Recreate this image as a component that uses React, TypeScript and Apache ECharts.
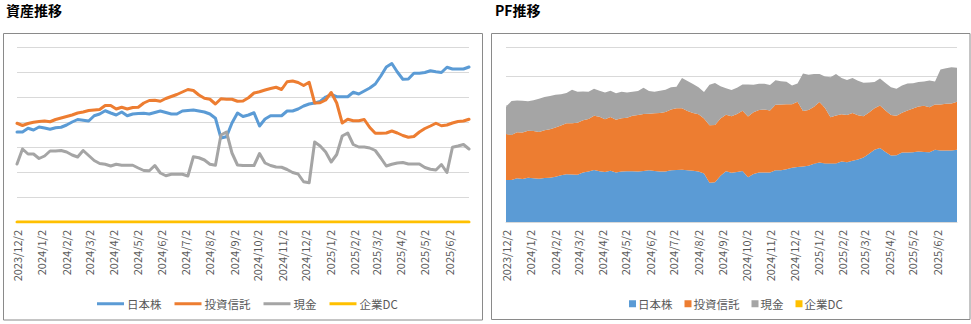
import React, { useEffect, useRef } from "react";
import * as echarts from "echarts";

const startDate = "2023/12/2";
const weekCount = 83;

const monthLabels = [
  "2023/12/2", "2024/1/2", "2024/2/2", "2024/3/2", "2024/4/2", "2024/5/2", "2024/6/2",
  "2024/7/2", "2024/8/2", "2024/9/2", "2024/10/2", "2024/11/2", "2024/12/2",
  "2025/1/2", "2025/2/2", "2025/3/2", "2025/4/2", "2025/5/2", "2025/6/2",
];

const seriesNames = ["日本株", "投資信託", "現金", "企業DC"];
const seriesColors = ["#5b9bd5", "#ed7d31", "#a5a5a5", "#ffc000"];

const japaneseStocks = [
  720, 720, 750, 736, 760, 752, 742, 754, 758, 776,
  800, 820, 814, 808, 850, 864, 890, 872, 856, 880,
  850, 864, 868, 870, 864, 876, 888, 876, 864, 864,
  888, 892, 896, 888, 880, 864, 830, 672, 682, 792,
  872, 844, 856, 874, 768, 824, 850, 850, 850, 888,
  888, 904, 928, 944, 952, 964, 1000, 1020, 1002, 1002,
  1002, 1038, 1024, 1048, 1072, 1104, 1168, 1240, 1268, 1200,
  1142, 1144, 1190, 1190, 1196, 1210, 1202, 1196, 1238, 1224,
  1224, 1224, 1240,
];

const investmentTrusts = [
  790, 772, 788, 798, 804, 808, 802, 820, 832, 844,
  856, 872, 880, 892, 896, 900, 932, 932, 904, 918,
  904, 916, 918, 952, 972, 974, 966, 988, 1004, 1020,
  1040, 1060, 1052, 1016, 990, 982, 944, 986, 982, 982,
  966, 968, 994, 1032, 1042, 1056, 1068, 1078, 1060, 1122,
  1128, 1116, 1092, 1118, 952, 954, 976, 1036, 952, 792,
  822, 810, 810, 820, 756, 710, 710, 712, 728, 712,
  692, 678, 684, 720, 748, 768, 790, 770, 776, 792,
  804, 808, 822,
];

const cash = [
  464, 584, 544, 544, 508, 528, 568, 568, 572, 560,
  536, 520, 572, 532, 492, 468, 462, 448, 462, 454,
  454, 454, 432, 412, 410, 452, 392, 370, 382, 382,
  382, 368, 522, 514, 496, 462, 454, 696, 720, 552,
  456, 452, 452, 452, 548, 472, 452, 440, 438, 420,
  396, 384, 322, 314, 640, 608, 560, 480, 540, 688,
  712, 620, 600, 600, 592, 572, 512, 448, 462, 472,
  476, 464, 464, 464, 436, 422, 416, 460, 396, 598,
  608, 620, 584,
];

const corporateDC = [
  0, 0, 0, 0, 0, 0, 0, 0, 0, 0,
  0, 0, 0, 0, 0, 0, 0, 0, 0, 0,
  0, 0, 0, 0, 0, 0, 0, 0, 0, 0,
  0, 0, 0, 0, 0, 0, 0, 0, 0, 0,
  0, 0, 0, 0, 0, 0, 0, 0, 0, 0,
  0, 0, 0, 0, 0, 0, 0, 0, 0, 0,
  0, 0, 0, 0, 0, 0, 0, 0, 0, 0,
  0, 0, 0, 0, 0, 0, 0, 0, 0, 0,
  0, 0, 0,
];

const allSeries = [japaneseStocks, investmentTrusts, cash, corporateDC];

function dayOffset(label: string): number {
  const [y, m, d] = label.split("/").map(Number);
  const [y0, m0, d0] = startDate.split("/").map(Number);
  return Math.round((Date.UTC(y, m - 1, d) - Date.UTC(y0, m0 - 1, d0)) / 86400000);
}

const pointDays = Array.from({ length: weekCount }, (_, i) => i * 7);
const labelDays = monthLabels.map(dayOffset);
const labelByDay: Record<number, string> = {};
monthLabels.forEach((l, i) => (labelByDay[labelDays[i]] = l));

const FONT = '"Noto Sans CJK JP", "Noto Sans", sans-serif';

function makeXAxis(gridIndex: number) {
  return {
    type: "value",
    gridIndex,
    min: 0,
    max: pointDays[pointDays.length - 1],
    axisLine: { show: true, lineStyle: { color: "#d9d9d9", width: 1 } },
    axisTick: { show: false },
    splitLine: { show: false },
    axisLabel: {
      customValues: labelDays,
      rotate: 90,
      margin: 8,
      color: "#595959",
      fontSize: 11,
      fontFamily: FONT,
      showMinLabel: true,
      showMaxLabel: true,
      hideOverlap: false,
      formatter: (v: number) => labelByDay[Math.round(v)] ?? "",
    },
  };
}

function makeYAxis(gridIndex: number, max: number, interval: number) {
  return {
    type: "value",
    gridIndex,
    min: 0,
    max,
    interval,
    axisLine: { show: false },
    axisTick: { show: false },
    axisLabel: { show: false },
    splitLine: { show: true, lineStyle: { color: "#d9d9d9", width: 1 } },
  };
}

export default function App() {
  const ref = useRef<HTMLDivElement>(null);

  useEffect(() => {
    if (!ref.current) return;
    const chart = echarts.init(ref.current, undefined, { renderer: "svg" });

    const lineSeries = seriesNames.map((name, k) => ({
      name,
      type: "line",
      xAxisIndex: 0,
      yAxisIndex: 0,
      showSymbol: false,
      symbol: "none",
      color: seriesColors[k],
      itemStyle: { color: seriesColors[k] },
      lineStyle: { color: seriesColors[k], width: 3, join: "round", cap: "round" },
      data: pointDays.map((d, i) => [d, allSeries[k][i]]),
      z: 2 + k,
    }));

    // value column first so that the stack is applied to the y (value) dimension
    const areaSeries = seriesNames.map((name, k) => ({
      name,
      type: "line",
      xAxisIndex: 1,
      yAxisIndex: 1,
      stack: "pf",
      encode: { x: 1, y: 0 },
      showSymbol: false,
      symbol: "none",
      color: seriesColors[k],
      itemStyle: { color: seriesColors[k] },
      lineStyle: { width: 0, color: seriesColors[k] },
      areaStyle: { color: seriesColors[k], opacity: 1 },
      data: pointDays.map((d, i) => [allSeries[k][i], d]),
    }));

    chart.setOption({
      animation: false,
      backgroundColor: "#ffffff",
      textStyle: { fontFamily: FONT },
      grid: [
        { left: 17, top: 47, width: 452, height: 175, outerBoundsMode: "none" },
        { left: 506, top: 47, width: 451, height: 175, outerBoundsMode: "none" },
      ],
      xAxis: [makeXAxis(0), makeXAxis(1)],
      yAxis: [makeYAxis(0, 1400, 200), makeYAxis(1, 3000, 500)],
      legend: [
        {
          data: seriesNames,
          left: 92,
          top: 293,
          orient: "horizontal",
          icon: "rect",
          itemWidth: 27,
          itemHeight: 3,
          itemGap: 13,
          selectedMode: false,
          textStyle: { color: "#595959", fontSize: 11.5, fontFamily: FONT, padding: [0, 0, 0, -2] },
        },
        {
          data: seriesNames,
          left: 624,
          top: 293,
          orient: "horizontal",
          icon: "rect",
          itemWidth: 7,
          itemHeight: 7,
          itemGap: 12,
          selectedMode: false,
          textStyle: { color: "#595959", fontSize: 11.5, fontFamily: FONT, padding: [0, 0, 0, -3] },
        },
      ],
      graphic: [
        {
          type: "rect",
          shape: { x: 3.5, y: 33.5, width: 479, height: 286.5 },
          style: { fill: "none", stroke: "#8a8a8a", lineWidth: 1 },
          silent: true,
        },
        {
          type: "rect",
          shape: { x: 491.5, y: 33.5, width: 478.5, height: 286 },
          style: { fill: "none", stroke: "#8a8a8a", lineWidth: 1 },
          silent: true,
        },
        {
          type: "text",
          x: 6,
          y: 3,
          style: { text: "資産推移", font: `bold 14px ${FONT}`, fill: "#000000" },
        },
        {
          type: "text",
          x: 495,
          y: 3,
          style: { text: "PF推移", font: `bold 14px ${FONT}`, fill: "#000000" },
        },
      ],
      series: [...lineSeries, ...areaSeries],
    });

    return () => chart.dispose();
  }, []);

  return (
    <div
      ref={ref}
      style={{ position: "fixed", left: 0, top: 0, width: 971, height: 324, background: "#fff" }}
    />
  );
}
